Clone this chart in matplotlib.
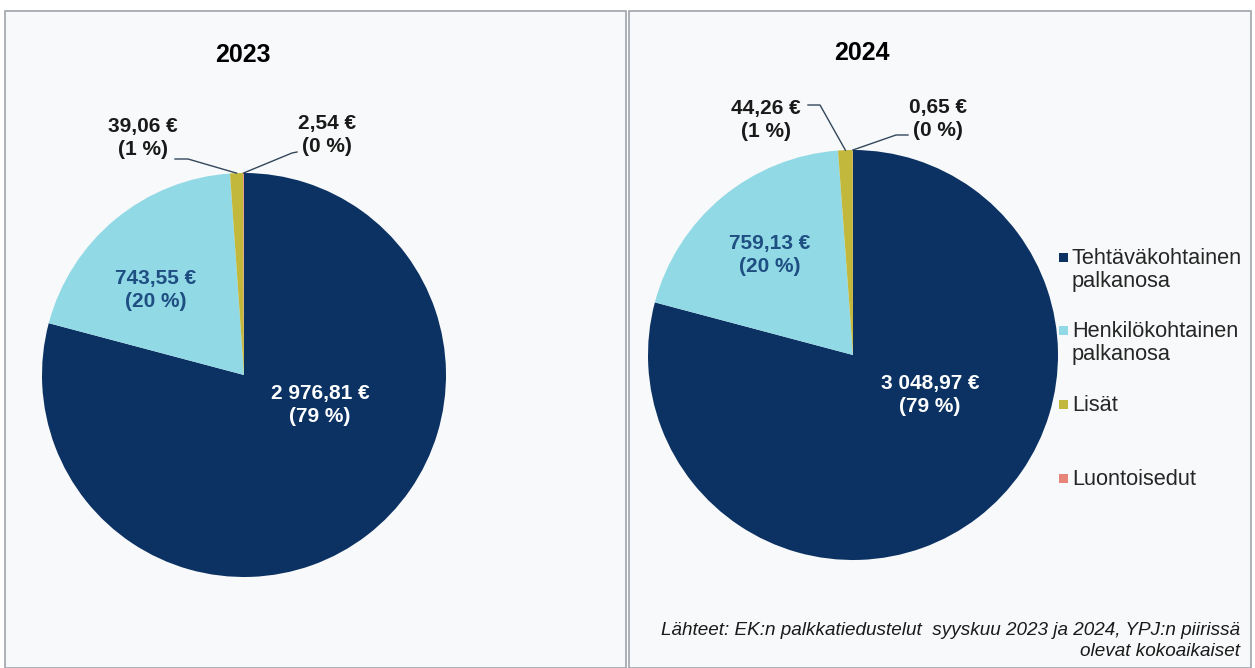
import matplotlib
matplotlib.use("Agg")
import matplotlib.pyplot as plt
from matplotlib.patches import Rectangle
import numpy as np

plt.rcParams['font.family'] = ['Liberation Sans', 'DejaVu Sans']

categories = ["Tehtäväkohtainen\npalkanosa", "Henkilökohtainen\npalkanosa", "Lisät", "Luontoisedut"]
years = ["2023", "2024"]
values_2023 = [2976.81, 743.55, 39.06, 2.54]
values_2024 = [3048.97, 759.13, 44.26, 0.65]
pct_2023 = [79, 20, 1, 0]
pct_2024 = [79, 20, 1, 0]
source = "Lähteet: EK:n palkkatiedustelut  syyskuu 2023 ja 2024, YPJ:n piirissä\nolevat kokoaikaiset"

colors = ["#0b3263", "#92d9e6", "#c2b93c", "#e8857a"]
label_colors = ["white", "#1f4f82", "#1a1a1a", "#1a1a1a"]

W, H = 1255, 668
fig = plt.figure(figsize=(W / 100, H / 100), dpi=100)
fig.patch.set_facecolor("white")

# panels
for x0, x1 in [(5, 626), (629, 1251)]:
    fig.patches.append(Rectangle((x0 / W, 0), (x1 - x0) / W, (H - 11) / H,
                                 transform=fig.transFigure, facecolor="#f8f9fa",
                                 edgecolor="#a0a3ab", linewidth=1.2, zorder=-5))

def fmt(v):
    s = f"{v:,.2f}"
    s = s.replace(",", " ").replace(".", ",")
    return s + " €"

layouts = [
    dict(cx=244, cy=375, r=202, title=(243, 55),
         inner=[(320, 405), (156, 290)],
         outer=[dict(text=(143, 138), line=[(175, 159), (188, 159)]),
                dict(text=(327, 135), line=[(297, 152), (292, 153)])]),
    dict(cx=853, cy=355, r=205, title=(862, 53),
         inner=[(930, 395), (770, 255)],
         outer=[dict(text=(766, 120), line=[(808, 105), (820, 105)]),
                dict(text=(938, 119), line=[(908, 135), (896, 135)])]),
]

for year, vals, pcts, lay in zip(years, [values_2023, values_2024], [pct_2023, pct_2024], layouts):
    cx, cy, r = lay["cx"], lay["cy"], lay["r"]
    ax = fig.add_axes([(cx - r) / W, (H - cy - r) / H, 2 * r / W, 2 * r / H])
    ax.set_zorder(2)
    ax.patch.set_visible(False)
    wedges, _ = ax.pie(vals, colors=colors, startangle=90, counterclock=False,
                       radius=1.0, wedgeprops=dict(linewidth=0))
    ax.set_xlim(-1, 1)
    ax.set_ylim(-1, 1)
    ax.set_aspect("equal")
    ax.axis("off")

    def px2d(p):
        return ((p[0] - cx) / r, (cy - p[1]) / r)

    fig.text(lay["title"][0] / W, 1 - lay["title"][1] / H, year, ha="center", va="center",
             fontsize=18, fontweight="bold", color="black")

    for i in range(2):
        x, y = px2d(lay["inner"][i])
        ax.text(x, y, f"{fmt(vals[i])}\n({pcts[i]} %)", ha="center", va="center",
                fontsize=15, fontweight="bold", color=label_colors[i], linespacing=1.25)

    for j, i in enumerate([2, 3]):
        o = lay["outer"][j]
        x, y = px2d(o["text"])
        ax.text(x, y, f"{fmt(vals[i])}\n({pcts[i]} %)", ha="center", va="center",
                fontsize=15, fontweight="bold", color="#1a1a1a", linespacing=1.25,
                clip_on=False)
        w = wedges[i]
        mid = np.deg2rad((w.theta1 + w.theta2) / 2)
        ex, ey = np.cos(mid), np.sin(mid)
        p0 = px2d(o["line"][0])
        p1 = px2d(o["line"][1])
        ax.plot([p0[0], p1[0], ex], [p0[1], p1[1], ey], color="#33475b",
                linewidth=1.0, clip_on=False)

# legend
leg_y = [257, 330, 404, 478]
for cat, col, y in zip(categories, colors, leg_y):
    fig.patches.append(Rectangle((1059 / W, 1 - (y + 5) / H), 9 / W, 9 / H,
                                 transform=fig.transFigure, facecolor=col,
                                 edgecolor="none", zorder=3))
    fig.text(1072 / W, 1 - (y - 9) / H, cat, ha="left", va="top", fontsize=15.7,
             color="#262626", linespacing=1.12)

fig.text(1240 / W, 1 - 622 / H, source, ha="right", va="top", fontsize=13.6,
         style="italic", color="#1a1a1a", linespacing=1.3)

fig.savefig("out.png", dpi=100, facecolor="white")
